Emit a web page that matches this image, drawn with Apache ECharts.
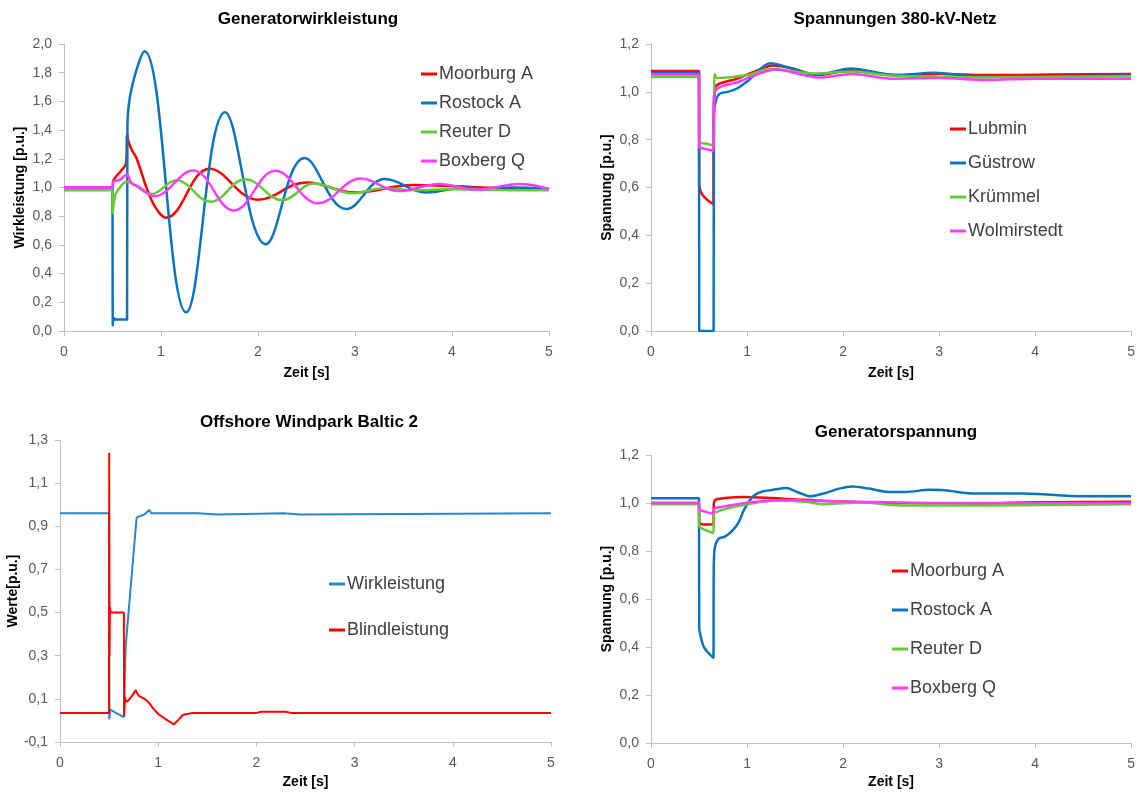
<!DOCTYPE html>
<html>
<head>
<meta charset="utf-8">
<script src="https://cdn.jsdelivr.net/npm/echarts@6/dist/echarts.min.js"></script>
<style>
  html, body { margin: 0; padding: 0; background: #fff; }
  #chart { width: 1138px; height: 792px; }
</style>
</head>
<body>
<div id="chart"></div>
<script>
// Zeitachse [s]
const zeitTicks = [0, 1, 2, 3, 4, 5]

// Generatorwirkleistung [p.u.]  (Zeit, Wert)
const wirkMoorburg = [[0,1.0],[0.5,1.0],[0.51,1.05],[0.58,1.11],[0.64,1.17],[0.652,1.37],[0.665,1.32],[0.7,1.26],[0.75,1.2],[0.85,1.0],[0.94,0.865],[1.05,0.79],[1.5,1.13],[2.0,0.915],[2.5,1.035],[3.0,0.965],[3.6,1.017],[4.0,1.01],[4.4,0.998],[5.0,0.99]]
const wirkRostock = [[0,0.995],[0.5,0.995],[0.502,0.04],[0.515,0.09],[0.53,0.08],[0.65,0.08],[0.654,1.43],[0.7,1.7],[0.83,1.95],[1.26,0.13],[1.66,1.525],[2.08,0.605],[2.48,1.205],[2.91,0.85],[3.31,1.06],[3.73,0.965],[4.15,1.0],[4.4,0.99],[4.6,1.0],[5.0,0.99]]
const wirkReuter = [[0,0.98],[0.5,0.98],[0.502,0.82],[0.53,0.95],[0.57,0.995],[0.645,1.04],[0.9,0.955],[1.16,1.05],[1.51,0.9],[1.87,1.057],[2.25,0.912],[2.58,1.028],[2.97,0.96],[3.3,0.995],[3.6,0.982],[4.0,0.988],[4.5,0.982],[5.0,0.98]]
const wirkBoxberg = [[0,1.0],[0.5,1.0],[0.505,1.04],[0.58,1.055],[0.645,1.09],[0.7,1.025],[0.76,1.01],[0.93,0.94],[1.33,1.118],[1.75,0.84],[2.18,1.116],[2.62,0.89],[3.06,1.062],[3.45,0.975],[3.87,1.025],[4.25,0.985],[4.7,1.025],[5.0,0.99]]

// Spannungen 380-kV-Netz [p.u.]
const netzLubmin = [[0,1.087],[0.5,1.087],[0.502,0.62],[0.52,0.58],[0.58,0.55],[0.65,0.53],[0.653,0.9],[0.67,1.02],[0.72,1.035],[0.9,1.055],[1.05,1.08],[1.27,1.11],[1.5,1.095],[1.72,1.07],[2.1,1.09],[2.55,1.07],[3.0,1.075],[3.5,1.07],[4.2,1.072],[5.0,1.075]]
const netzGuestrow = [[0,1.08],[0.5,1.08],[0.502,0],[0.652,0],[0.655,0.9],[0.68,0.97],[0.72,0.993],[0.8,1.0],[0.9,1.015],[1.03,1.053],[1.24,1.12],[1.45,1.1],[1.72,1.07],[2.08,1.098],[2.55,1.07],[2.95,1.08],[3.4,1.065],[4.0,1.065],[5.0,1.068]]
const netzKruemmel = [[0,1.062],[0.5,1.062],[0.502,0.785],[0.55,0.785],[0.65,0.775],[0.663,1.075],[0.69,1.058],[0.8,1.06],[1.0,1.07],[1.25,1.095],[1.7,1.077],[2.1,1.085],[2.5,1.068],[3.0,1.062],[3.5,1.06],[5.0,1.065]]
const netzWolmirstedt = [[0,1.072],[0.5,1.072],[0.502,0.77],[0.52,0.765],[0.65,0.755],[0.655,0.98],[0.68,1.01],[0.75,1.025],[0.9,1.04],[1.05,1.065],[1.3,1.093],[1.75,1.06],[2.1,1.075],[2.5,1.055],[3.0,1.058],[3.5,1.05],[4.0,1.055],[5.0,1.055]]

// Offshore Windpark Baltic 2 [p.u.]
const baltWirk = [[0,0.96],[0.5,0.96],[0.502,0.005],[0.51,0.05],[0.65,0.015],[0.665,0.02],[0.668,0.34],[0.78,0.94],[0.86,0.955],[0.91,0.975],[0.93,0.96],[1.4,0.96],[1.42,0.955],[1.6,0.955],[1.62,0.96],[2.28,0.96],[2.3,0.955],[2.45,0.955],[2.47,0.96],[5.0,0.96]]
const baltBlind = [[0,0.035],[0.5,0.035],[0.501,1.24],[0.504,0.3],[0.507,0.53],[0.515,0.5],[0.65,0.5],[0.653,0.02],[0.66,0.11],[0.675,0.085],[0.7,0.095],[0.735,0.115],[0.77,0.14],[0.8,0.115],[0.86,0.1],[0.9,0.085],[0.95,0.055],[1.0,0.03],[1.08,0.005],[1.16,-0.018],[1.2,0.0],[1.25,0.025],[1.35,0.035],[2.0,0.035],[2.05,0.04],[2.3,0.04],[2.35,0.035],[5.0,0.035]]

// Generatorspannung [p.u.]
const spgMoorburg = [[0,1.0],[0.5,1.0],[0.502,0.92],[0.55,0.91],[0.65,0.915],[0.655,1.0],[0.68,1.015],[0.8,1.022],[0.95,1.025],[1.2,1.022],[1.5,1.015],[2.0,1.005],[2.5,1.0],[3.5,0.998],[4.0,1.003],[5.0,1.005]]
const spgRostock = [[0,1.02],[0.5,1.02],[0.502,0.48],[0.52,0.44],[0.545,0.404],[0.58,0.383],[0.61,0.37],[0.65,0.355],[0.653,0.7],[0.66,0.8],[0.7,0.85],[0.77,0.86],[0.84,0.882],[0.91,0.917],[0.97,0.972],[1.06,1.027],[1.16,1.048],[1.27,1.055],[1.41,1.062],[1.51,1.048],[1.66,1.028],[1.82,1.042],[1.96,1.06],[2.1,1.069],[2.27,1.06],[2.48,1.046],[2.65,1.046],[2.9,1.055],[3.06,1.053],[3.35,1.04],[3.87,1.04],[4.21,1.033],[4.56,1.028],[5.0,1.028]]
const spgReuter = [[0,0.995],[0.5,0.995],[0.502,0.905],[0.55,0.89],[0.65,0.875],[0.655,0.955],[0.7,0.965],[0.8,0.978],[1.0,0.995],[1.3,1.01],[1.6,1.005],[1.8,0.995],[2.2,1.002],[2.6,0.99],[3.5,0.99],[5.0,0.995]]
const spgBoxberg = [[0,1.0],[0.5,1.0],[0.502,0.975],[0.58,0.962],[0.65,0.955],[0.655,0.975],[0.75,0.985],[0.9,0.995],[1.1,1.005],[1.4,1.012],[1.8,1.008],[2.5,1.003],[3.0,1.0],[5.0,1.0]]

// Farben
const ROT = '#ff0000'
const BLAU = '#0b74bf'
const GRUEN = '#66c93a'
const PINK = '#ff3cff'

const FONT = '"Liberation Sans", Arial, sans-serif'
const AXIS_GRAU = '#bfbfbf'

const chart = echarts.init(document.getElementById('chart'))

function fmtKomma(v) {
  return v.toFixed(1).replace('.', ',')
}

function xAchse(gridIndex, nameGap) {
  return {
    type: 'value',
    gridIndex: gridIndex,
    min: zeitTicks[0],
    max: zeitTicks[zeitTicks.length - 1],
    interval: 1,
    name: 'Zeit [s]',
    nameLocation: 'middle',
    nameGap: nameGap,
    nameTextStyle: { fontFamily: FONT, fontSize: 14, fontWeight: 'bold', color: '#000' },
    axisLine: { show: true, onZero: false, lineStyle: { color: AXIS_GRAU, width: 1 } },
    axisTick: { show: true, length: 5, lineStyle: { color: AXIS_GRAU } },
    axisLabel: { fontFamily: FONT, fontSize: 14, color: '#595959', margin: 14 },
    splitLine: { show: false }
  }
}

function yAchse(gridIndex, min, max, name, nameGap) {
  return {
    type: 'value',
    gridIndex: gridIndex,
    min: min,
    max: max,
    interval: 0.2,
    name: name,
    nameLocation: 'middle',
    nameGap: nameGap,
    nameTextStyle: { fontFamily: FONT, fontSize: 14, fontWeight: 'bold', color: '#000' },
    axisLine: { show: true, lineStyle: { color: AXIS_GRAU, width: 1 } },
    axisTick: { show: true, length: 5, lineStyle: { color: AXIS_GRAU } },
    axisLabel: { fontFamily: FONT, fontSize: 14, color: '#595959', margin: 12, formatter: fmtKomma },
    splitLine: { show: false }
  }
}

function linie(name, data, color, idx, width, smooth) {
  return {
    name: name,
    type: 'line',
    xAxisIndex: idx,
    yAxisIndex: idx,
    data: data,
    symbol: 'none',
    smooth: smooth,
    color: color,
    lineStyle: { color: color, width: width },
    animation: false
  }
}

function legende(names, left, top, gap) {
  return {
    orient: 'vertical',
    left: left,
    top: top,
    data: names,
    icon: 'rect',
    itemWidth: 16,
    itemHeight: 3,
    itemGap: gap,
    selectedMode: false,
    textStyle: { fontFamily: FONT, fontSize: 18, color: '#404040', lineHeight: 20, padding: [0, 0, 0, -3] }
  }
}

function titel(text, x, y) {
  return {
    text: text,
    left: x,
    top: y,
    textAlign: 'center',
    textStyle: { fontFamily: FONT, fontSize: 17, fontWeight: 'bold', color: '#000' }
  }
}

const option = {
  backgroundColor: '#fff',
  animation: false,
  title: [
    titel('Generatorwirkleistung', 303, 6),
    titel('Spannungen 380-kV-Netz', 890, 6),
    titel('Offshore Windpark Baltic 2', 304, 409),
    titel('Generatorspannung', 891, 419)
  ],
  grid: [
    { left: 64, top: 44, width: 485, height: 287 },
    { left: 651, top: 44, width: 485, height: 287 },
    { left: 60, top: 440, width: 491, height: 302 },
    { left: 651, top: 455, width: 485, height: 288 }
  ],
  xAxis: [xAchse(0, 35), xAchse(1, 35), xAchse(2, 33), xAchse(3, 32)],
  yAxis: [
    yAchse(0, 0, 2, 'Wirkleistung [p.u.]', 37),
    yAchse(1, 0, 1.2, 'Spannung [p.u.]', 37),
    yAchse(2, -0.1, 1.3, 'Werte[p.u.]', 40),
    yAchse(3, 0, 1.2, 'Spannung [p.u.]', 37)
  ],
  legend: [
    legende(['Moorburg A', 'Rostock A', 'Reuter D', 'Boxberg Q'], 416, 59, 9),
    legende(['Lubmin', 'Güstrow', 'Krümmel', 'Wolmirstedt'], 945, 114, 14),
    legende(['Wirkleistung', 'Blindleistung'], 324, 569, 26),
    legende(['Moorburg A ', 'Rostock A ', 'Reuter D ', 'Boxberg Q '], 887, 556, 19)
  ],
  series: [
    linie('Moorburg A', wirkMoorburg, ROT, 0, 2.5, 0.4),
    linie('Rostock A', wirkRostock, BLAU, 0, 2.5, 0.4),
    linie('Reuter D', wirkReuter, GRUEN, 0, 2.5, 0.4),
    linie('Boxberg Q', wirkBoxberg, PINK, 0, 2.5, 0.4),

    linie('Lubmin', netzLubmin, ROT, 1, 2.5, 0.3),
    linie('Güstrow', netzGuestrow, BLAU, 1, 2.5, 0.3),
    linie('Krümmel', netzKruemmel, GRUEN, 1, 2.5, 0.3),
    linie('Wolmirstedt', netzWolmirstedt, PINK, 1, 2.5, 0.3),

    linie('Wirkleistung', baltWirk, '#2a86c8', 2, 2, false),
    linie('Blindleistung', baltBlind, ROT, 2, 2, false),

    linie('Moorburg A ', spgMoorburg, ROT, 3, 2.5, 0.3),
    linie('Rostock A ', spgRostock, BLAU, 3, 2.5, 0.3),
    linie('Reuter D ', spgReuter, GRUEN, 3, 2.5, 0.3),
    linie('Boxberg Q ', spgBoxberg, PINK, 3, 2.5, 0.3)
  ]
}

chart.setOption(option)
</script>
</body>
</html>
